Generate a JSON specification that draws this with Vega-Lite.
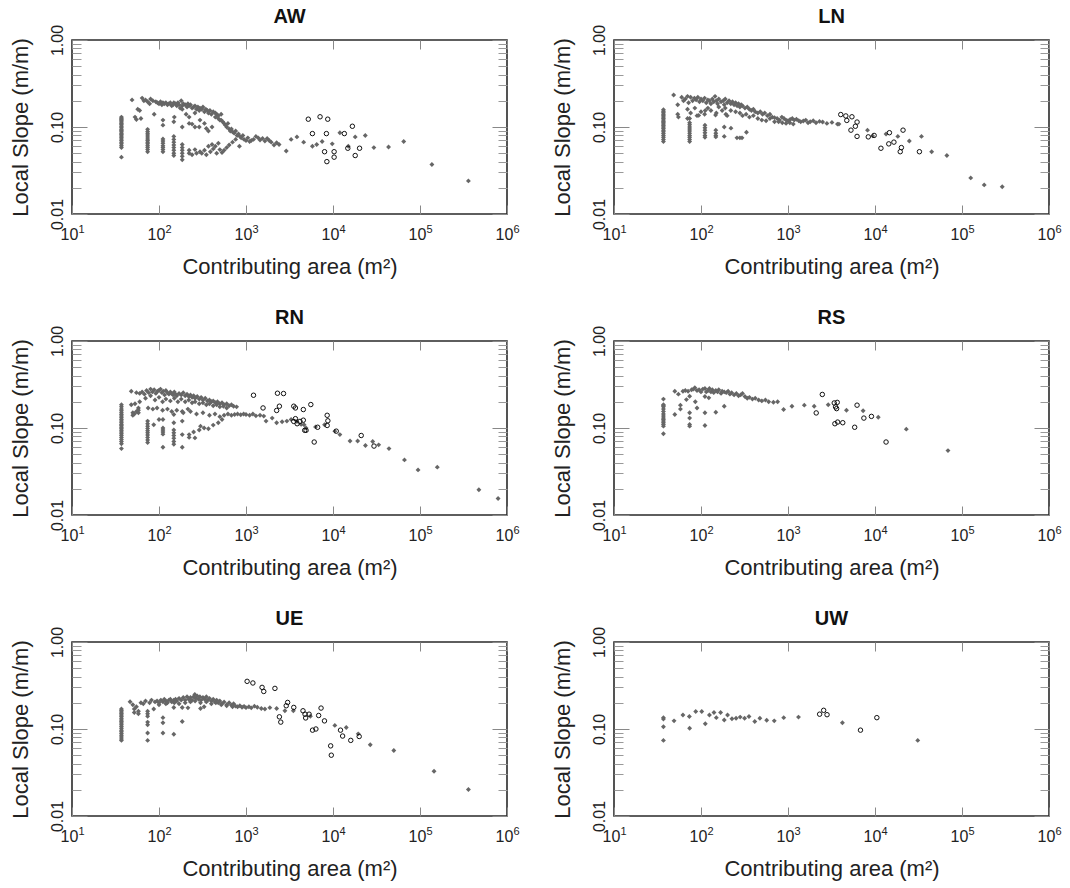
{
"$schema":"https://vega.github.io/schema/vega-lite/v6.json",
"background":"white",
"padding":{"left":8,"top":6,"right":5,"bottom":5},
"bounds":"flush",
"columns":2,
"spacing":{"row":127,"column":107},
"config":{"font":"Liberation Sans","view":{"stroke":"#2a2a2a","strokeWidth":1.6},"axis":{"labelFont":"Liberation Sans","titleFont":"Liberation Sans"}},
"datasets":{
"AW_f":[{"A":37,"S":0.13},{"A":37,"S":0.126},{"A":37,"S":0.122},{"A":37,"S":0.118},{"A":37,"S":0.114},{"A":37,"S":0.11},{"A":37,"S":0.106},{"A":37,"S":0.102},{"A":37,"S":0.098},{"A":37,"S":0.094},{"A":37,"S":0.091},{"A":37,"S":0.088},{"A":37,"S":0.085},{"A":37,"S":0.082},{"A":37,"S":0.079},{"A":37,"S":0.076},{"A":37,"S":0.073},{"A":37,"S":0.07},{"A":37,"S":0.067},{"A":37,"S":0.064},{"A":37,"S":0.061},{"A":37,"S":0.058},{"A":37,"S":0.045},
{"A":74,"S":0.094},{"A":74,"S":0.089},{"A":74,"S":0.085},{"A":74,"S":0.081},{"A":74,"S":0.077},{"A":74,"S":0.073},{"A":74,"S":0.07},{"A":74,"S":0.067},{"A":74,"S":0.064},{"A":74,"S":0.061},{"A":74,"S":0.058},{"A":74,"S":0.055},{"A":74,"S":0.052},
{"A":111,"S":0.073},{"A":111,"S":0.069},{"A":111,"S":0.065},{"A":111,"S":0.061},{"A":111,"S":0.058},{"A":111,"S":0.055},{"A":111,"S":0.052},
{"A":148,"S":0.078},{"A":148,"S":0.072},{"A":148,"S":0.067},{"A":148,"S":0.062},{"A":148,"S":0.058},{"A":148,"S":0.054},{"A":148,"S":0.05},{"A":148,"S":0.047},
{"A":185,"S":0.063},{"A":185,"S":0.058},{"A":185,"S":0.054},{"A":185,"S":0.05},{"A":185,"S":0.046},{"A":185,"S":0.042},
{"A":49,"S":0.205},{"A":53,"S":0.13},{"A":55,"S":0.122},{"A":57,"S":0.16},{"A":60,"S":0.155},{"A":62,"S":0.125},{"A":64,"S":0.215},{"A":67,"S":0.2},{"A":70,"S":0.205},{"A":74,"S":0.195},{"A":78,"S":0.185},{"A":80,"S":0.21},{"A":85,"S":0.2},{"A":88,"S":0.14},{"A":92,"S":0.195},{"A":96,"S":0.19},{"A":100,"S":0.185},{"A":104,"S":0.195},{"A":108,"S":0.18},{"A":111,"S":0.19},{"A":111,"S":0.12},{"A":111,"S":0.105},{"A":115,"S":0.185},{"A":120,"S":0.19},{"A":125,"S":0.18},{"A":130,"S":0.185},{"A":135,"S":0.19},{"A":140,"S":0.175},{"A":145,"S":0.18},{"A":148,"S":0.19},{"A":148,"S":0.115},{"A":150,"S":0.13},{"A":155,"S":0.185},{"A":160,"S":0.175},{"A":165,"S":0.19},{"A":170,"S":0.18},{"A":175,"S":0.165},{"A":180,"S":0.2},{"A":185,"S":0.175},{"A":185,"S":0.16},{"A":185,"S":0.1},{"A":190,"S":0.185},{"A":200,"S":0.18},{"A":205,"S":0.14},{"A":210,"S":0.17},{"A":215,"S":0.185},{"A":222,"S":0.175},{"A":222,"S":0.13},{"A":222,"S":0.11},{"A":230,"S":0.18},{"A":240,"S":0.165},{"A":240,"S":0.108},{"A":250,"S":0.17},{"A":259,"S":0.175},{"A":259,"S":0.145},{"A":259,"S":0.1},{"A":270,"S":0.16},{"A":280,"S":0.17},{"A":290,"S":0.155},{"A":290,"S":0.1},{"A":296,"S":0.165},{"A":296,"S":0.12},{"A":310,"S":0.16},{"A":320,"S":0.17},{"A":333,"S":0.15},{"A":333,"S":0.11},{"A":345,"S":0.16},{"A":350,"S":0.096},{"A":360,"S":0.155},{"A":370,"S":0.145},{"A":370,"S":0.09},{"A":385,"S":0.155},{"A":400,"S":0.14},{"A":407,"S":0.1},{"A":420,"S":0.15},{"A":444,"S":0.13},{"A":444,"S":0.145},{"A":460,"S":0.14},{"A":481,"S":0.125},{"A":481,"S":0.135},{"A":500,"S":0.12},{"A":518,"S":0.14},{"A":518,"S":0.12},{"A":540,"S":0.115},{"A":560,"S":0.11},{"A":580,"S":0.105},{"A":600,"S":0.1},{"A":620,"S":0.11},{"A":640,"S":0.095},{"A":660,"S":0.09},{"A":680,"S":0.095},{"A":700,"S":0.088},{"A":730,"S":0.085},{"A":760,"S":0.09},{"A":790,"S":0.08},{"A":820,"S":0.083},{"A":850,"S":0.078},{"A":880,"S":0.075},{"A":920,"S":0.08},{"A":950,"S":0.072},{"A":1000,"S":0.07},{"A":1050,"S":0.075},{"A":1100,"S":0.068},{"A":1150,"S":0.07},{"A":1220,"S":0.072},{"A":1300,"S":0.078},{"A":1380,"S":0.075},{"A":1450,"S":0.071},{"A":1550,"S":0.074},{"A":1650,"S":0.069},{"A":1750,"S":0.074},{"A":1850,"S":0.07},{"A":1950,"S":0.067},{"A":2100,"S":0.062},{"A":2250,"S":0.066},
{"A":222,"S":0.054},{"A":222,"S":0.05},{"A":240,"S":0.048},{"A":259,"S":0.055},{"A":270,"S":0.05},{"A":296,"S":0.052},{"A":310,"S":0.05},{"A":333,"S":0.054},{"A":350,"S":0.048},{"A":370,"S":0.06},{"A":390,"S":0.052},{"A":407,"S":0.063},{"A":420,"S":0.056},{"A":444,"S":0.06},{"A":460,"S":0.05},{"A":481,"S":0.065},{"A":500,"S":0.055},{"A":530,"S":0.051},{"A":560,"S":0.054},{"A":600,"S":0.058},{"A":640,"S":0.062},{"A":700,"S":0.067},{"A":760,"S":0.072},{"A":840,"S":0.06},
{"A":2400,"S":0.063},{"A":2900,"S":0.053},{"A":3300,"S":0.072},{"A":3850,"S":0.077},{"A":4600,"S":0.067},{"A":5800,"S":0.06},{"A":6500,"S":0.063},{"A":7500,"S":0.068},{"A":9800,"S":0.064},{"A":12000,"S":0.086},{"A":15000,"S":0.06},{"A":18000,"S":0.077},{"A":23500,"S":0.08},{"A":29500,"S":0.058},{"A":43500,"S":0.059},{"A":65000,"S":0.068},{"A":137000,"S":0.037},{"A":360000,"S":0.024}],
"AW_o":[{"A":5200,"S":0.123},{"A":7100,"S":0.131},{"A":8700,"S":0.123},{"A":5800,"S":0.084},{"A":8400,"S":0.084},{"A":13500,"S":0.084},{"A":16700,"S":0.102},{"A":8000,"S":0.052},{"A":10300,"S":0.052},{"A":8500,"S":0.04},{"A":10300,"S":0.045},{"A":14800,"S":0.057},{"A":20200,"S":0.057},{"A":18000,"S":0.047}],
"LN_f":[{"A":37,"S":0.158},{"A":37,"S":0.152},{"A":37,"S":0.146},{"A":37,"S":0.14},{"A":37,"S":0.135},{"A":37,"S":0.13},{"A":37,"S":0.125},{"A":37,"S":0.12},{"A":37,"S":0.116},{"A":37,"S":0.112},{"A":37,"S":0.108},{"A":37,"S":0.104},{"A":37,"S":0.1},{"A":37,"S":0.096},{"A":37,"S":0.092},{"A":37,"S":0.088},{"A":37,"S":0.084},{"A":37,"S":0.08},{"A":37,"S":0.076},{"A":37,"S":0.072},{"A":37,"S":0.068},
{"A":74,"S":0.112},{"A":74,"S":0.106},{"A":74,"S":0.1},{"A":74,"S":0.095},{"A":74,"S":0.09},{"A":74,"S":0.085},{"A":74,"S":0.08},{"A":74,"S":0.076},{"A":74,"S":0.072},{"A":74,"S":0.068},{"A":70,"S":0.125},
{"A":111,"S":0.105},{"A":111,"S":0.098},{"A":111,"S":0.092},{"A":111,"S":0.086},{"A":111,"S":0.08},{"A":111,"S":0.076},
{"A":148,"S":0.092},{"A":148,"S":0.085},{"A":148,"S":0.08},{"A":148,"S":0.077},{"A":185,"S":0.1},{"A":185,"S":0.078},
{"A":221,"S":0.097},{"A":259,"S":0.075},{"A":280,"S":0.075},{"A":296,"S":0.075},{"A":333,"S":0.087},
{"A":48.5,"S":0.233},{"A":54,"S":0.18},{"A":54,"S":0.14},{"A":55,"S":0.13},{"A":60,"S":0.22},{"A":63,"S":0.2},{"A":66,"S":0.21},{"A":70,"S":0.225},{"A":72,"S":0.19},{"A":76,"S":0.22},{"A":80,"S":0.2},{"A":84,"S":0.215},{"A":88,"S":0.205},{"A":92,"S":0.22},{"A":96,"S":0.195},{"A":100,"S":0.21},{"A":105,"S":0.2},{"A":110,"S":0.215},{"A":115,"S":0.19},{"A":120,"S":0.205},{"A":125,"S":0.2},{"A":130,"S":0.185},{"A":135,"S":0.21},{"A":140,"S":0.195},{"A":145,"S":0.225},{"A":150,"S":0.2},{"A":155,"S":0.185},{"A":160,"S":0.21},{"A":170,"S":0.195},{"A":180,"S":0.2},{"A":185,"S":0.18},{"A":190,"S":0.21},{"A":200,"S":0.19},{"A":210,"S":0.2},{"A":220,"S":0.185},{"A":230,"S":0.195},{"A":240,"S":0.18},{"A":250,"S":0.19},{"A":260,"S":0.175},{"A":270,"S":0.185},{"A":280,"S":0.17},{"A":290,"S":0.18},{"A":300,"S":0.175},{"A":320,"S":0.165},{"A":340,"S":0.17},{"A":360,"S":0.16},{"A":380,"S":0.155},{"A":400,"S":0.16},{"A":420,"S":0.15},{"A":450,"S":0.145},{"A":480,"S":0.15},{"A":510,"S":0.14},{"A":540,"S":0.145},{"A":580,"S":0.135},{"A":620,"S":0.14},{"A":660,"S":0.13},{"A":700,"S":0.128},{"A":750,"S":0.125},{"A":800,"S":0.12},{"A":850,"S":0.13},{"A":900,"S":0.125},{"A":950,"S":0.12},{"A":1000,"S":0.118},{"A":1060,"S":0.122},{"A":1120,"S":0.125},{"A":1180,"S":0.12},{"A":1250,"S":0.123},{"A":1330,"S":0.118},{"A":1400,"S":0.115},{"A":1500,"S":0.117},{"A":1600,"S":0.12},{"A":1700,"S":0.112},{"A":1800,"S":0.115},{"A":1950,"S":0.118},{"A":2100,"S":0.112},{"A":2300,"S":0.116},{"A":2500,"S":0.114},{"A":2800,"S":0.11},{"A":3200,"S":0.113},{"A":3700,"S":0.108},
{"A":70,"S":0.16},{"A":76,"S":0.145},{"A":85,"S":0.165},{"A":90,"S":0.135},{"A":100,"S":0.15},{"A":110,"S":0.14},{"A":120,"S":0.165},{"A":130,"S":0.155},{"A":150,"S":0.145},{"A":160,"S":0.17},{"A":175,"S":0.155},{"A":190,"S":0.165},{"A":200,"S":0.135},{"A":220,"S":0.155},{"A":250,"S":0.15},{"A":280,"S":0.145},{"A":300,"S":0.135},{"A":330,"S":0.14},{"A":360,"S":0.13},{"A":400,"S":0.135},{"A":450,"S":0.125},{"A":500,"S":0.12},{"A":560,"S":0.118},{"A":620,"S":0.125},{"A":700,"S":0.115},{"A":780,"S":0.115},{"A":860,"S":0.112},{"A":950,"S":0.11},{"A":1050,"S":0.112},{"A":1150,"S":0.108},
{"A":74,"S":0.125},{"A":94,"S":0.136},{"A":112,"S":0.155},{"A":147,"S":0.137},{"A":193,"S":0.14},
{"A":3850,"S":0.108},{"A":8200,"S":0.092},{"A":9400,"S":0.079},{"A":13400,"S":0.083},{"A":18300,"S":0.078},{"A":24800,"S":0.069},{"A":34200,"S":0.078},{"A":44800,"S":0.052},{"A":67000,"S":0.047},{"A":126000,"S":0.026},{"A":180000,"S":0.0216},{"A":290000,"S":0.0206}],
"LN_o":[{"A":4040,"S":0.139},{"A":4620,"S":0.134},{"A":5430,"S":0.131},{"A":4740,"S":0.119},{"A":6220,"S":0.114},{"A":5950,"S":0.102},{"A":5290,"S":0.092},{"A":6220,"S":0.078},{"A":8370,"S":0.077},{"A":9770,"S":0.08},{"A":14650,"S":0.086},{"A":21000,"S":0.092},{"A":11700,"S":0.057},{"A":14400,"S":0.064},{"A":16500,"S":0.067},{"A":20100,"S":0.058},{"A":19500,"S":0.052},{"A":32400,"S":0.052}],
"RN_f":[{"A":37,"S":0.185},{"A":37,"S":0.175},{"A":37,"S":0.165},{"A":37,"S":0.158},{"A":37,"S":0.15},{"A":37,"S":0.143},{"A":37,"S":0.137},{"A":37,"S":0.131},{"A":37,"S":0.125},{"A":37,"S":0.12},{"A":37,"S":0.115},{"A":37,"S":0.11},{"A":37,"S":0.106},{"A":37,"S":0.102},{"A":37,"S":0.098},{"A":37,"S":0.094},{"A":37,"S":0.09},{"A":37,"S":0.086},{"A":37,"S":0.082},{"A":37,"S":0.078},{"A":37,"S":0.074},{"A":37,"S":0.07},{"A":37,"S":0.066},{"A":37,"S":0.058},
{"A":50,"S":0.14},{"A":50,"S":0.15},{"A":52,"S":0.145},{"A":55,"S":0.155},{"A":58,"S":0.17},{"A":58,"S":0.16},{"A":58,"S":0.15},{"A":48,"S":0.185},{"A":53,"S":0.19},{"A":60,"S":0.2},
{"A":74,"S":0.12},{"A":74,"S":0.112},{"A":74,"S":0.105},{"A":74,"S":0.099},{"A":74,"S":0.093},{"A":74,"S":0.088},{"A":74,"S":0.083},{"A":74,"S":0.078},{"A":74,"S":0.073},{"A":74,"S":0.068},
{"A":111,"S":0.1},{"A":111,"S":0.095},{"A":111,"S":0.09},{"A":111,"S":0.085},{"A":111,"S":0.06},{"A":111,"S":0.125},
{"A":148,"S":0.095},{"A":148,"S":0.088},{"A":148,"S":0.082},{"A":148,"S":0.076},{"A":148,"S":0.07},{"A":148,"S":0.065},{"A":148,"S":0.115},{"A":148,"S":0.143},
{"A":185,"S":0.12},{"A":185,"S":0.084},{"A":185,"S":0.06},{"A":185,"S":0.155},{"A":222,"S":0.084},{"A":222,"S":0.078},{"A":259,"S":0.077},{"A":215,"S":0.165},
{"A":48,"S":0.265},{"A":55,"S":0.255},{"A":60,"S":0.25},{"A":64,"S":0.26},{"A":68,"S":0.245},{"A":72,"S":0.27},{"A":76,"S":0.255},{"A":80,"S":0.28},{"A":84,"S":0.26},{"A":88,"S":0.275},{"A":92,"S":0.25},{"A":96,"S":0.265},{"A":100,"S":0.27},{"A":104,"S":0.28},{"A":108,"S":0.255},{"A":112,"S":0.265},{"A":116,"S":0.24},{"A":120,"S":0.27},{"A":125,"S":0.255},{"A":130,"S":0.245},{"A":135,"S":0.26},{"A":140,"S":0.25},{"A":145,"S":0.24},{"A":150,"S":0.26},{"A":155,"S":0.245},{"A":160,"S":0.235},{"A":170,"S":0.25},{"A":180,"S":0.24},{"A":190,"S":0.255},{"A":200,"S":0.235},{"A":210,"S":0.245},{"A":220,"S":0.23},{"A":230,"S":0.24},{"A":240,"S":0.225},{"A":250,"S":0.235},{"A":260,"S":0.22},{"A":275,"S":0.23},{"A":290,"S":0.215},{"A":305,"S":0.225},{"A":320,"S":0.21},{"A":340,"S":0.22},{"A":360,"S":0.205},{"A":380,"S":0.21},{"A":400,"S":0.2},{"A":420,"S":0.205},{"A":445,"S":0.195},{"A":470,"S":0.2},{"A":500,"S":0.19},{"A":530,"S":0.195},{"A":560,"S":0.185},{"A":600,"S":0.19},{"A":640,"S":0.18},{"A":680,"S":0.185},{"A":720,"S":0.178},{"A":780,"S":0.175},
{"A":70,"S":0.22},{"A":80,"S":0.235},{"A":90,"S":0.21},{"A":100,"S":0.225},{"A":110,"S":0.2},{"A":120,"S":0.215},{"A":135,"S":0.205},{"A":150,"S":0.22},{"A":165,"S":0.2},{"A":180,"S":0.215},{"A":200,"S":0.2},{"A":220,"S":0.21},{"A":240,"S":0.195},{"A":260,"S":0.2},{"A":290,"S":0.19},{"A":320,"S":0.195},{"A":350,"S":0.185},{"A":380,"S":0.19},{"A":420,"S":0.18},{"A":460,"S":0.185},{"A":500,"S":0.175},{"A":550,"S":0.178},{"A":600,"S":0.17},
{"A":75,"S":0.17},{"A":85,"S":0.165},{"A":95,"S":0.17},{"A":110,"S":0.16},{"A":125,"S":0.165},{"A":140,"S":0.155},{"A":160,"S":0.16},{"A":190,"S":0.15},{"A":230,"S":0.155},{"A":270,"S":0.145},{"A":320,"S":0.15},{"A":380,"S":0.14},{"A":440,"S":0.145},{"A":500,"S":0.135},{"A":560,"S":0.14},{"A":620,"S":0.145},{"A":680,"S":0.14},{"A":740,"S":0.143},{"A":800,"S":0.145},{"A":870,"S":0.142},{"A":940,"S":0.145},{"A":1000,"S":0.143},{"A":1100,"S":0.14},{"A":1200,"S":0.145},{"A":1300,"S":0.138},{"A":1450,"S":0.14},{"A":1600,"S":0.137},
{"A":290,"S":0.095},{"A":330,"S":0.1},{"A":370,"S":0.098},{"A":420,"S":0.108},{"A":480,"S":0.115},{"A":530,"S":0.125},{"A":300,"S":0.105},{"A":250,"S":0.09},{"A":87,"S":0.109},{"A":100,"S":0.125},
{"A":1700,"S":0.12},{"A":2000,"S":0.13},{"A":2250,"S":0.115},{"A":2600,"S":0.118},{"A":2950,"S":0.12},{"A":3300,"S":0.125},{"A":3850,"S":0.119},{"A":4300,"S":0.11},{"A":4650,"S":0.109},{"A":4900,"S":0.1},{"A":6300,"S":0.103},{"A":8000,"S":0.109},{"A":10500,"S":0.092},{"A":12000,"S":0.084},{"A":15700,"S":0.071},{"A":19200,"S":0.071},{"A":23600,"S":0.063},{"A":28600,"S":0.07},{"A":33500,"S":0.064},{"A":44000,"S":0.058},{"A":66300,"S":0.043},{"A":95000,"S":0.033},{"A":158000,"S":0.0355},{"A":475000,"S":0.0195},{"A":790000,"S":0.0155}],
"RN_o":[{"A":1220,"S":0.238},{"A":1570,"S":0.17},{"A":2300,"S":0.251},{"A":2700,"S":0.249},{"A":2420,"S":0.178},{"A":2250,"S":0.159},{"A":3540,"S":0.178},{"A":3700,"S":0.17},{"A":3700,"S":0.128},{"A":3540,"S":0.119},{"A":3870,"S":0.112},{"A":4170,"S":0.119},{"A":4560,"S":0.163},{"A":4560,"S":0.123},{"A":5560,"S":0.186},{"A":4730,"S":0.094},{"A":4900,"S":0.094},{"A":6080,"S":0.069},{"A":6660,"S":0.102},{"A":8570,"S":0.14},{"A":8730,"S":0.121},{"A":8570,"S":0.107},{"A":10900,"S":0.092},{"A":21100,"S":0.082},{"A":29600,"S":0.062}],
"RS_f":[{"A":37,"S":0.215},{"A":37,"S":0.185},{"A":37,"S":0.18},{"A":37,"S":0.175},{"A":37,"S":0.165},{"A":37,"S":0.155},{"A":37,"S":0.145},{"A":37,"S":0.137},{"A":37,"S":0.13},{"A":37,"S":0.125},{"A":37,"S":0.12},{"A":37,"S":0.115},{"A":37,"S":0.11},{"A":37,"S":0.105},{"A":37,"S":0.086},
{"A":50,"S":0.265},{"A":50,"S":0.143},{"A":55,"S":0.245},{"A":58,"S":0.183},{"A":58,"S":0.165},{"A":62,"S":0.265},{"A":66,"S":0.27},{"A":68,"S":0.212},{"A":71,"S":0.265},{"A":74,"S":0.232},{"A":74,"S":0.15},{"A":74,"S":0.13},{"A":74,"S":0.11},{"A":74,"S":0.105},{"A":78,"S":0.275},{"A":82,"S":0.28},{"A":85,"S":0.29},{"A":86,"S":0.2},{"A":90,"S":0.27},{"A":90,"S":0.17},{"A":95,"S":0.275},{"A":100,"S":0.26},{"A":105,"S":0.28},{"A":111,"S":0.285},{"A":111,"S":0.23},{"A":111,"S":0.15},{"A":111,"S":0.107},{"A":115,"S":0.26},{"A":120,"S":0.27},{"A":123,"S":0.222},{"A":125,"S":0.285},{"A":130,"S":0.26},{"A":135,"S":0.275},{"A":140,"S":0.255},{"A":148,"S":0.27},{"A":148,"S":0.152},{"A":155,"S":0.26},{"A":160,"S":0.275},{"A":170,"S":0.25},{"A":175,"S":0.265},{"A":185,"S":0.26},{"A":185,"S":0.178},{"A":195,"S":0.255},{"A":205,"S":0.265},{"A":215,"S":0.245},{"A":225,"S":0.255},{"A":240,"S":0.24},{"A":255,"S":0.25},{"A":270,"S":0.235},{"A":285,"S":0.24},{"A":300,"S":0.25},{"A":320,"S":0.23},{"A":340,"S":0.22},{"A":360,"S":0.225},{"A":390,"S":0.215},{"A":420,"S":0.22},{"A":460,"S":0.21},{"A":500,"S":0.205},{"A":550,"S":0.21},{"A":600,"S":0.2},{"A":680,"S":0.198},{"A":760,"S":0.2},{"A":890,"S":0.163},{"A":1110,"S":0.178},{"A":1540,"S":0.183},{"A":2000,"S":0.178},{"A":2900,"S":0.185},{"A":4700,"S":0.16},{"A":7300,"S":0.158},{"A":10900,"S":0.133},{"A":22900,"S":0.097},{"A":69000,"S":0.055}],
"RS_o":[{"A":2480,"S":0.243},{"A":2110,"S":0.149},{"A":3400,"S":0.194},{"A":3680,"S":0.197},{"A":3520,"S":0.175},{"A":3620,"S":0.167},{"A":3460,"S":0.112},{"A":3720,"S":0.117},{"A":4260,"S":0.115},{"A":6220,"S":0.183},{"A":7450,"S":0.13},{"A":9100,"S":0.136},{"A":5840,"S":0.102},{"A":13400,"S":0.069}],
"UE_f":[{"A":37,"S":0.17},{"A":37,"S":0.163},{"A":37,"S":0.157},{"A":37,"S":0.151},{"A":37,"S":0.145},{"A":37,"S":0.139},{"A":37,"S":0.133},{"A":37,"S":0.127},{"A":37,"S":0.122},{"A":37,"S":0.117},{"A":37,"S":0.112},{"A":37,"S":0.107},{"A":37,"S":0.102},{"A":37,"S":0.097},{"A":37,"S":0.093},{"A":37,"S":0.089},{"A":37,"S":0.085},{"A":37,"S":0.081},{"A":37,"S":0.077},{"A":37,"S":0.074},
{"A":46.5,"S":0.206},{"A":50,"S":0.19},{"A":52,"S":0.17},{"A":52,"S":0.155},{"A":55,"S":0.18},{"A":58,"S":0.16},{"A":58,"S":0.15},{"A":62,"S":0.2},{"A":66,"S":0.195},{"A":70,"S":0.21},{"A":74,"S":0.16},{"A":74,"S":0.15},{"A":74,"S":0.14},{"A":74,"S":0.12},{"A":74,"S":0.112},{"A":74,"S":0.09},{"A":74,"S":0.074},{"A":78,"S":0.2},{"A":82,"S":0.215},{"A":87,"S":0.17},{"A":90,"S":0.205},{"A":95,"S":0.21},{"A":100,"S":0.2},{"A":105,"S":0.215},{"A":111,"S":0.135},{"A":111,"S":0.118},{"A":111,"S":0.09},{"A":111,"S":0.205},{"A":115,"S":0.22},{"A":120,"S":0.21},{"A":125,"S":0.2},{"A":130,"S":0.215},{"A":135,"S":0.22},{"A":140,"S":0.205},{"A":148,"S":0.087},{"A":148,"S":0.177},{"A":148,"S":0.215},{"A":155,"S":0.22},{"A":160,"S":0.21},{"A":170,"S":0.225},{"A":180,"S":0.215},{"A":185,"S":0.122},{"A":185,"S":0.177},{"A":190,"S":0.23},{"A":200,"S":0.215},{"A":210,"S":0.235},{"A":215,"S":0.175},{"A":220,"S":0.22},{"A":230,"S":0.23},{"A":240,"S":0.215},{"A":250,"S":0.235},{"A":258,"S":0.25},{"A":265,"S":0.225},{"A":275,"S":0.24},{"A":285,"S":0.22},{"A":295,"S":0.235},{"A":305,"S":0.215},{"A":320,"S":0.23},{"A":335,"S":0.22},{"A":350,"S":0.235},{"A":365,"S":0.215},{"A":380,"S":0.225},{"A":400,"S":0.21},{"A":420,"S":0.22},{"A":440,"S":0.205},{"A":460,"S":0.215},{"A":480,"S":0.2},{"A":500,"S":0.21},{"A":530,"S":0.195},{"A":560,"S":0.205},{"A":600,"S":0.19},{"A":640,"S":0.2},{"A":680,"S":0.188},{"A":720,"S":0.195},{"A":760,"S":0.183},{"A":800,"S":0.18},{"A":850,"S":0.185},{"A":900,"S":0.178},{"A":950,"S":0.182},{"A":1000,"S":0.176},{"A":1080,"S":0.18},{"A":1150,"S":0.175},{"A":1250,"S":0.183},{"A":1350,"S":0.178},{"A":1500,"S":0.172},{"A":1650,"S":0.17},{"A":1880,"S":0.176},{"A":2250,"S":0.172},{"A":2800,"S":0.162},{"A":3500,"S":0.162},
{"A":100,"S":0.19},{"A":120,"S":0.195},{"A":150,"S":0.2},{"A":170,"S":0.195},{"A":200,"S":0.2},{"A":230,"S":0.205},{"A":260,"S":0.21},{"A":300,"S":0.2},{"A":350,"S":0.205},{"A":400,"S":0.195},{"A":450,"S":0.2},{"A":520,"S":0.19},{"A":600,"S":0.185},{"A":700,"S":0.18},{"A":300,"S":0.172},{"A":330,"S":0.18},
{"A":5500,"S":0.14},{"A":10500,"S":0.11},{"A":14200,"S":0.104},{"A":19500,"S":0.088},{"A":26800,"S":0.066},{"A":50000,"S":0.0566},{"A":145000,"S":0.0327},{"A":360000,"S":0.0202}],
"UE_o":[{"A":1030,"S":0.353},{"A":1200,"S":0.338},{"A":1530,"S":0.301},{"A":1600,"S":0.27},{"A":2150,"S":0.293},{"A":3010,"S":0.202},{"A":2900,"S":0.185},{"A":3540,"S":0.177},{"A":2420,"S":0.138},{"A":2510,"S":0.12},{"A":4520,"S":0.162},{"A":4770,"S":0.148},{"A":4850,"S":0.134},{"A":5310,"S":0.148},{"A":6840,"S":0.143},{"A":7290,"S":0.174},{"A":7980,"S":0.124},{"A":5820,"S":0.097},{"A":6360,"S":0.1},{"A":12200,"S":0.097},{"A":12900,"S":0.083},{"A":16000,"S":0.074},{"A":20000,"S":0.082},{"A":9400,"S":0.064},{"A":9560,"S":0.05}],
"UW_f":[{"A":37,"S":0.135},{"A":37,"S":0.13},{"A":37,"S":0.106},{"A":37,"S":0.074},{"A":49,"S":0.124},{"A":62,"S":0.145},{"A":73.5,"S":0.139},{"A":74,"S":0.102},{"A":87,"S":0.159},{"A":102,"S":0.159},{"A":112,"S":0.115},{"A":125,"S":0.145},{"A":141,"S":0.155},{"A":150,"S":0.135},{"A":168,"S":0.155},{"A":185,"S":0.127},{"A":202,"S":0.145},{"A":227,"S":0.131},{"A":253,"S":0.133},{"A":282,"S":0.137},{"A":317,"S":0.133},{"A":356,"S":0.139},{"A":415,"S":0.122},{"A":475,"S":0.133},{"A":569,"S":0.126},{"A":695,"S":0.124},{"A":893,"S":0.135},{"A":1320,"S":0.137},{"A":4220,"S":0.118},{"A":31000,"S":0.074}],
"UW_o":[{"A":2310,"S":0.148},{"A":2570,"S":0.164},{"A":2810,"S":0.146},{"A":6810,"S":0.097},{"A":10500,"S":0.135}]
},
"concat":[
{"title":{"text":"AW","fontSize":20,"fontWeight":"bold","color":"#111111","font":"Liberation Sans","frame":"group","anchor":"middle","baseline":"alphabetic","offset":15,"dy":34},"width":435,"height":174,"layer":[
{"data":{"name":"AW_f"},"mark":{"type":"point","shape":"diamond","filled":true,"color":"#666666","size":24,"opacity":1},"encoding":{"x":{"field":"A","type":"quantitative","scale":{"type":"log","domain":[10,1000000],"nice":false},"axis":{"orient":"bottom","values":[10,100,1000,10000,100000,1000000],"labelExpr":"'10'","ticks":false,"domain":false,"grid":false,"labelFlush":false,"labelOverlap":false,"labelPadding":12,"labelOffset":-3,"labelFontSize":16,"labelColor":"#222222","title":"Contributing area (m²)","titleFontSize":22,"titleFontWeight":"normal","titleColor":"#222222","titlePadding":14}},"y":{"field":"S","type":"quantitative","scale":{"type":"log","domain":[0.01,1],"nice":false},"axis":{"orient":"left","values":[0.01,0.1,1],"format":".2f","ticks":false,"domain":false,"grid":false,"labelFlush":false,"labelOverlap":false,"labelAngle":270,"labelAlign":"center","labelBaseline":"bottom","labelPadding":7,"labelFontSize":16,"labelColor":"#222222","title":"Local Slope (m/m)","titleFontSize":22,"titleFontWeight":"normal","titleColor":"#222222","titlePadding":17}}}},
{"data":{"name":"AW_o"},"mark":{"type":"point","shape":"circle","filled":false,"stroke":"#111111","strokeWidth":1,"size":20,"opacity":1},"encoding":{"x":{"field":"A","type":"quantitative","scale":{"type":"log","domain":[10,1000000],"nice":false},"axis":{"orient":"bottom","values":[10,100,1000,10000,100000,1000000],"labelExpr":"''+round(log(datum.value)/LN10)","ticks":false,"domain":false,"grid":false,"labelFlush":false,"labelOverlap":false,"labelPadding":9,"labelOffset":9,"labelFontSize":11,"labelColor":"#222222","title":null}},"y":{"field":"S","type":"quantitative","scale":{"type":"log","domain":[0.01,1],"nice":false},"axis":{"orient":"left","values":[0.01,0.1,1],"labels":false,"domain":false,"grid":false,"ticks":true,"tickSize":15,"offset":-15,"tickColor":"#888888","tickWidth":1,"title":null}}}},
{"data":{"name":"AW_f"},"mark":{"type":"point","opacity":0},"encoding":{"x":{"field":"A","type":"quantitative","scale":{"type":"log","domain":[10,1000000],"nice":false},"axis":{"orient":"top","values":[10,100,1000,10000,100000,1000000],"labels":false,"domain":false,"grid":false,"ticks":true,"tickSize":9,"offset":-9,"tickColor":"#888888","tickWidth":1,"title":null}},"y":{"field":"S","type":"quantitative","scale":{"type":"log","domain":[0.01,1],"nice":false},"axis":{"orient":"left","values":[0.02,0.03,0.04,0.05,0.06,0.07,0.08,0.09,0.2,0.3,0.4,0.5,0.6,0.7,0.8,0.9],"labels":false,"domain":false,"grid":false,"ticks":true,"tickSize":9,"offset":-9,"tickColor":"#999999","tickWidth":1,"title":null}}}},
{"data":{"name":"AW_f"},"mark":{"type":"point","opacity":0},"encoding":{"x":{"field":"A","type":"quantitative","scale":{"type":"log","domain":[10,1000000],"nice":false},"axis":{"orient":"bottom","values":[10,100,1000,10000,100000,1000000],"labels":false,"domain":false,"grid":false,"ticks":true,"tickSize":9,"offset":-9,"tickColor":"#888888","tickWidth":1,"title":null}},"y":{"field":"S","type":"quantitative","scale":{"type":"log","domain":[0.01,1],"nice":false},"axis":{"orient":"right","values":[0.01,0.1,1],"labels":false,"domain":false,"grid":false,"ticks":true,"tickSize":15,"offset":-15,"tickColor":"#888888","tickWidth":1,"title":null}}}},
{"data":{"name":"AW_f"},"mark":{"type":"point","opacity":0},"encoding":{"x":{"field":"A","type":"quantitative","scale":{"type":"log","domain":[10,1000000],"nice":false},"axis":null},"y":{"field":"S","type":"quantitative","scale":{"type":"log","domain":[0.01,1],"nice":false},"axis":{"orient":"right","values":[0.02,0.03,0.04,0.05,0.06,0.07,0.08,0.09,0.2,0.3,0.4,0.5,0.6,0.7,0.8,0.9],"labels":false,"domain":false,"grid":false,"ticks":true,"tickSize":9,"offset":-9,"tickColor":"#999999","tickWidth":1,"title":null}}}}
],"resolve":{"axis":{"x":"independent","y":"independent"}}},
{"title":{"text":"LN","fontSize":20,"fontWeight":"bold","color":"#111111","font":"Liberation Sans","frame":"group","anchor":"middle","baseline":"alphabetic","offset":15,"dy":34},"width":435,"height":174,"layer":[
{"data":{"name":"LN_f"},"mark":{"type":"point","shape":"diamond","filled":true,"color":"#666666","size":24,"opacity":1},"encoding":{"x":{"field":"A","type":"quantitative","scale":{"type":"log","domain":[10,1000000],"nice":false},"axis":{"orient":"bottom","values":[10,100,1000,10000,100000,1000000],"labelExpr":"'10'","ticks":false,"domain":false,"grid":false,"labelFlush":false,"labelOverlap":false,"labelPadding":12,"labelOffset":-3,"labelFontSize":16,"labelColor":"#222222","title":"Contributing area (m²)","titleFontSize":22,"titleFontWeight":"normal","titleColor":"#222222","titlePadding":14}},"y":{"field":"S","type":"quantitative","scale":{"type":"log","domain":[0.01,1],"nice":false},"axis":{"orient":"left","values":[0.01,0.1,1],"format":".2f","ticks":false,"domain":false,"grid":false,"labelFlush":false,"labelOverlap":false,"labelAngle":270,"labelAlign":"center","labelBaseline":"bottom","labelPadding":7,"labelFontSize":16,"labelColor":"#222222","title":"Local Slope (m/m)","titleFontSize":22,"titleFontWeight":"normal","titleColor":"#222222","titlePadding":17}}}},
{"data":{"name":"LN_o"},"mark":{"type":"point","shape":"circle","filled":false,"stroke":"#111111","strokeWidth":1,"size":20,"opacity":1},"encoding":{"x":{"field":"A","type":"quantitative","scale":{"type":"log","domain":[10,1000000],"nice":false},"axis":{"orient":"bottom","values":[10,100,1000,10000,100000,1000000],"labelExpr":"''+round(log(datum.value)/LN10)","ticks":false,"domain":false,"grid":false,"labelFlush":false,"labelOverlap":false,"labelPadding":9,"labelOffset":9,"labelFontSize":11,"labelColor":"#222222","title":null}},"y":{"field":"S","type":"quantitative","scale":{"type":"log","domain":[0.01,1],"nice":false},"axis":{"orient":"left","values":[0.01,0.1,1],"labels":false,"domain":false,"grid":false,"ticks":true,"tickSize":15,"offset":-15,"tickColor":"#888888","tickWidth":1,"title":null}}}},
{"data":{"name":"LN_f"},"mark":{"type":"point","opacity":0},"encoding":{"x":{"field":"A","type":"quantitative","scale":{"type":"log","domain":[10,1000000],"nice":false},"axis":{"orient":"top","values":[10,100,1000,10000,100000,1000000],"labels":false,"domain":false,"grid":false,"ticks":true,"tickSize":9,"offset":-9,"tickColor":"#888888","tickWidth":1,"title":null}},"y":{"field":"S","type":"quantitative","scale":{"type":"log","domain":[0.01,1],"nice":false},"axis":{"orient":"left","values":[0.02,0.03,0.04,0.05,0.06,0.07,0.08,0.09,0.2,0.3,0.4,0.5,0.6,0.7,0.8,0.9],"labels":false,"domain":false,"grid":false,"ticks":true,"tickSize":9,"offset":-9,"tickColor":"#999999","tickWidth":1,"title":null}}}},
{"data":{"name":"LN_f"},"mark":{"type":"point","opacity":0},"encoding":{"x":{"field":"A","type":"quantitative","scale":{"type":"log","domain":[10,1000000],"nice":false},"axis":{"orient":"bottom","values":[10,100,1000,10000,100000,1000000],"labels":false,"domain":false,"grid":false,"ticks":true,"tickSize":9,"offset":-9,"tickColor":"#888888","tickWidth":1,"title":null}},"y":{"field":"S","type":"quantitative","scale":{"type":"log","domain":[0.01,1],"nice":false},"axis":{"orient":"right","values":[0.01,0.1,1],"labels":false,"domain":false,"grid":false,"ticks":true,"tickSize":15,"offset":-15,"tickColor":"#888888","tickWidth":1,"title":null}}}},
{"data":{"name":"LN_f"},"mark":{"type":"point","opacity":0},"encoding":{"x":{"field":"A","type":"quantitative","scale":{"type":"log","domain":[10,1000000],"nice":false},"axis":null},"y":{"field":"S","type":"quantitative","scale":{"type":"log","domain":[0.01,1],"nice":false},"axis":{"orient":"right","values":[0.02,0.03,0.04,0.05,0.06,0.07,0.08,0.09,0.2,0.3,0.4,0.5,0.6,0.7,0.8,0.9],"labels":false,"domain":false,"grid":false,"ticks":true,"tickSize":9,"offset":-9,"tickColor":"#999999","tickWidth":1,"title":null}}}}
],"resolve":{"axis":{"x":"independent","y":"independent"}}},
{"title":{"text":"RN","fontSize":20,"fontWeight":"bold","color":"#111111","font":"Liberation Sans","frame":"group","anchor":"middle","baseline":"alphabetic","offset":15,"dy":34},"width":435,"height":174,"layer":[
{"data":{"name":"RN_f"},"mark":{"type":"point","shape":"diamond","filled":true,"color":"#666666","size":24,"opacity":1},"encoding":{"x":{"field":"A","type":"quantitative","scale":{"type":"log","domain":[10,1000000],"nice":false},"axis":{"orient":"bottom","values":[10,100,1000,10000,100000,1000000],"labelExpr":"'10'","ticks":false,"domain":false,"grid":false,"labelFlush":false,"labelOverlap":false,"labelPadding":12,"labelOffset":-3,"labelFontSize":16,"labelColor":"#222222","title":"Contributing area (m²)","titleFontSize":22,"titleFontWeight":"normal","titleColor":"#222222","titlePadding":14}},"y":{"field":"S","type":"quantitative","scale":{"type":"log","domain":[0.01,1],"nice":false},"axis":{"orient":"left","values":[0.01,0.1,1],"format":".2f","ticks":false,"domain":false,"grid":false,"labelFlush":false,"labelOverlap":false,"labelAngle":270,"labelAlign":"center","labelBaseline":"bottom","labelPadding":7,"labelFontSize":16,"labelColor":"#222222","title":"Local Slope (m/m)","titleFontSize":22,"titleFontWeight":"normal","titleColor":"#222222","titlePadding":17}}}},
{"data":{"name":"RN_o"},"mark":{"type":"point","shape":"circle","filled":false,"stroke":"#111111","strokeWidth":1,"size":20,"opacity":1},"encoding":{"x":{"field":"A","type":"quantitative","scale":{"type":"log","domain":[10,1000000],"nice":false},"axis":{"orient":"bottom","values":[10,100,1000,10000,100000,1000000],"labelExpr":"''+round(log(datum.value)/LN10)","ticks":false,"domain":false,"grid":false,"labelFlush":false,"labelOverlap":false,"labelPadding":9,"labelOffset":9,"labelFontSize":11,"labelColor":"#222222","title":null}},"y":{"field":"S","type":"quantitative","scale":{"type":"log","domain":[0.01,1],"nice":false},"axis":{"orient":"left","values":[0.01,0.1,1],"labels":false,"domain":false,"grid":false,"ticks":true,"tickSize":15,"offset":-15,"tickColor":"#888888","tickWidth":1,"title":null}}}},
{"data":{"name":"RN_f"},"mark":{"type":"point","opacity":0},"encoding":{"x":{"field":"A","type":"quantitative","scale":{"type":"log","domain":[10,1000000],"nice":false},"axis":{"orient":"top","values":[10,100,1000,10000,100000,1000000],"labels":false,"domain":false,"grid":false,"ticks":true,"tickSize":9,"offset":-9,"tickColor":"#888888","tickWidth":1,"title":null}},"y":{"field":"S","type":"quantitative","scale":{"type":"log","domain":[0.01,1],"nice":false},"axis":{"orient":"left","values":[0.02,0.03,0.04,0.05,0.06,0.07,0.08,0.09,0.2,0.3,0.4,0.5,0.6,0.7,0.8,0.9],"labels":false,"domain":false,"grid":false,"ticks":true,"tickSize":9,"offset":-9,"tickColor":"#999999","tickWidth":1,"title":null}}}},
{"data":{"name":"RN_f"},"mark":{"type":"point","opacity":0},"encoding":{"x":{"field":"A","type":"quantitative","scale":{"type":"log","domain":[10,1000000],"nice":false},"axis":{"orient":"bottom","values":[10,100,1000,10000,100000,1000000],"labels":false,"domain":false,"grid":false,"ticks":true,"tickSize":9,"offset":-9,"tickColor":"#888888","tickWidth":1,"title":null}},"y":{"field":"S","type":"quantitative","scale":{"type":"log","domain":[0.01,1],"nice":false},"axis":{"orient":"right","values":[0.01,0.1,1],"labels":false,"domain":false,"grid":false,"ticks":true,"tickSize":15,"offset":-15,"tickColor":"#888888","tickWidth":1,"title":null}}}},
{"data":{"name":"RN_f"},"mark":{"type":"point","opacity":0},"encoding":{"x":{"field":"A","type":"quantitative","scale":{"type":"log","domain":[10,1000000],"nice":false},"axis":null},"y":{"field":"S","type":"quantitative","scale":{"type":"log","domain":[0.01,1],"nice":false},"axis":{"orient":"right","values":[0.02,0.03,0.04,0.05,0.06,0.07,0.08,0.09,0.2,0.3,0.4,0.5,0.6,0.7,0.8,0.9],"labels":false,"domain":false,"grid":false,"ticks":true,"tickSize":9,"offset":-9,"tickColor":"#999999","tickWidth":1,"title":null}}}}
],"resolve":{"axis":{"x":"independent","y":"independent"}}},
{"title":{"text":"RS","fontSize":20,"fontWeight":"bold","color":"#111111","font":"Liberation Sans","frame":"group","anchor":"middle","baseline":"alphabetic","offset":15,"dy":34},"width":435,"height":174,"layer":[
{"data":{"name":"RS_f"},"mark":{"type":"point","shape":"diamond","filled":true,"color":"#666666","size":24,"opacity":1},"encoding":{"x":{"field":"A","type":"quantitative","scale":{"type":"log","domain":[10,1000000],"nice":false},"axis":{"orient":"bottom","values":[10,100,1000,10000,100000,1000000],"labelExpr":"'10'","ticks":false,"domain":false,"grid":false,"labelFlush":false,"labelOverlap":false,"labelPadding":12,"labelOffset":-3,"labelFontSize":16,"labelColor":"#222222","title":"Contributing area (m²)","titleFontSize":22,"titleFontWeight":"normal","titleColor":"#222222","titlePadding":14}},"y":{"field":"S","type":"quantitative","scale":{"type":"log","domain":[0.01,1],"nice":false},"axis":{"orient":"left","values":[0.01,0.1,1],"format":".2f","ticks":false,"domain":false,"grid":false,"labelFlush":false,"labelOverlap":false,"labelAngle":270,"labelAlign":"center","labelBaseline":"bottom","labelPadding":7,"labelFontSize":16,"labelColor":"#222222","title":"Local Slope (m/m)","titleFontSize":22,"titleFontWeight":"normal","titleColor":"#222222","titlePadding":17}}}},
{"data":{"name":"RS_o"},"mark":{"type":"point","shape":"circle","filled":false,"stroke":"#111111","strokeWidth":1,"size":20,"opacity":1},"encoding":{"x":{"field":"A","type":"quantitative","scale":{"type":"log","domain":[10,1000000],"nice":false},"axis":{"orient":"bottom","values":[10,100,1000,10000,100000,1000000],"labelExpr":"''+round(log(datum.value)/LN10)","ticks":false,"domain":false,"grid":false,"labelFlush":false,"labelOverlap":false,"labelPadding":9,"labelOffset":9,"labelFontSize":11,"labelColor":"#222222","title":null}},"y":{"field":"S","type":"quantitative","scale":{"type":"log","domain":[0.01,1],"nice":false},"axis":{"orient":"left","values":[0.01,0.1,1],"labels":false,"domain":false,"grid":false,"ticks":true,"tickSize":15,"offset":-15,"tickColor":"#888888","tickWidth":1,"title":null}}}},
{"data":{"name":"RS_f"},"mark":{"type":"point","opacity":0},"encoding":{"x":{"field":"A","type":"quantitative","scale":{"type":"log","domain":[10,1000000],"nice":false},"axis":{"orient":"top","values":[10,100,1000,10000,100000,1000000],"labels":false,"domain":false,"grid":false,"ticks":true,"tickSize":9,"offset":-9,"tickColor":"#888888","tickWidth":1,"title":null}},"y":{"field":"S","type":"quantitative","scale":{"type":"log","domain":[0.01,1],"nice":false},"axis":{"orient":"left","values":[0.02,0.03,0.04,0.05,0.06,0.07,0.08,0.09,0.2,0.3,0.4,0.5,0.6,0.7,0.8,0.9],"labels":false,"domain":false,"grid":false,"ticks":true,"tickSize":9,"offset":-9,"tickColor":"#999999","tickWidth":1,"title":null}}}},
{"data":{"name":"RS_f"},"mark":{"type":"point","opacity":0},"encoding":{"x":{"field":"A","type":"quantitative","scale":{"type":"log","domain":[10,1000000],"nice":false},"axis":{"orient":"bottom","values":[10,100,1000,10000,100000,1000000],"labels":false,"domain":false,"grid":false,"ticks":true,"tickSize":9,"offset":-9,"tickColor":"#888888","tickWidth":1,"title":null}},"y":{"field":"S","type":"quantitative","scale":{"type":"log","domain":[0.01,1],"nice":false},"axis":{"orient":"right","values":[0.01,0.1,1],"labels":false,"domain":false,"grid":false,"ticks":true,"tickSize":15,"offset":-15,"tickColor":"#888888","tickWidth":1,"title":null}}}},
{"data":{"name":"RS_f"},"mark":{"type":"point","opacity":0},"encoding":{"x":{"field":"A","type":"quantitative","scale":{"type":"log","domain":[10,1000000],"nice":false},"axis":null},"y":{"field":"S","type":"quantitative","scale":{"type":"log","domain":[0.01,1],"nice":false},"axis":{"orient":"right","values":[0.02,0.03,0.04,0.05,0.06,0.07,0.08,0.09,0.2,0.3,0.4,0.5,0.6,0.7,0.8,0.9],"labels":false,"domain":false,"grid":false,"ticks":true,"tickSize":9,"offset":-9,"tickColor":"#999999","tickWidth":1,"title":null}}}}
],"resolve":{"axis":{"x":"independent","y":"independent"}}},
{"title":{"text":"UE","fontSize":20,"fontWeight":"bold","color":"#111111","font":"Liberation Sans","frame":"group","anchor":"middle","baseline":"alphabetic","offset":15,"dy":34},"width":435,"height":174,"layer":[
{"data":{"name":"UE_f"},"mark":{"type":"point","shape":"diamond","filled":true,"color":"#666666","size":24,"opacity":1},"encoding":{"x":{"field":"A","type":"quantitative","scale":{"type":"log","domain":[10,1000000],"nice":false},"axis":{"orient":"bottom","values":[10,100,1000,10000,100000,1000000],"labelExpr":"'10'","ticks":false,"domain":false,"grid":false,"labelFlush":false,"labelOverlap":false,"labelPadding":12,"labelOffset":-3,"labelFontSize":16,"labelColor":"#222222","title":"Contributing area (m²)","titleFontSize":22,"titleFontWeight":"normal","titleColor":"#222222","titlePadding":14}},"y":{"field":"S","type":"quantitative","scale":{"type":"log","domain":[0.01,1],"nice":false},"axis":{"orient":"left","values":[0.01,0.1,1],"format":".2f","ticks":false,"domain":false,"grid":false,"labelFlush":false,"labelOverlap":false,"labelAngle":270,"labelAlign":"center","labelBaseline":"bottom","labelPadding":7,"labelFontSize":16,"labelColor":"#222222","title":"Local Slope (m/m)","titleFontSize":22,"titleFontWeight":"normal","titleColor":"#222222","titlePadding":17}}}},
{"data":{"name":"UE_o"},"mark":{"type":"point","shape":"circle","filled":false,"stroke":"#111111","strokeWidth":1,"size":20,"opacity":1},"encoding":{"x":{"field":"A","type":"quantitative","scale":{"type":"log","domain":[10,1000000],"nice":false},"axis":{"orient":"bottom","values":[10,100,1000,10000,100000,1000000],"labelExpr":"''+round(log(datum.value)/LN10)","ticks":false,"domain":false,"grid":false,"labelFlush":false,"labelOverlap":false,"labelPadding":9,"labelOffset":9,"labelFontSize":11,"labelColor":"#222222","title":null}},"y":{"field":"S","type":"quantitative","scale":{"type":"log","domain":[0.01,1],"nice":false},"axis":{"orient":"left","values":[0.01,0.1,1],"labels":false,"domain":false,"grid":false,"ticks":true,"tickSize":15,"offset":-15,"tickColor":"#888888","tickWidth":1,"title":null}}}},
{"data":{"name":"UE_f"},"mark":{"type":"point","opacity":0},"encoding":{"x":{"field":"A","type":"quantitative","scale":{"type":"log","domain":[10,1000000],"nice":false},"axis":{"orient":"top","values":[10,100,1000,10000,100000,1000000],"labels":false,"domain":false,"grid":false,"ticks":true,"tickSize":9,"offset":-9,"tickColor":"#888888","tickWidth":1,"title":null}},"y":{"field":"S","type":"quantitative","scale":{"type":"log","domain":[0.01,1],"nice":false},"axis":{"orient":"left","values":[0.02,0.03,0.04,0.05,0.06,0.07,0.08,0.09,0.2,0.3,0.4,0.5,0.6,0.7,0.8,0.9],"labels":false,"domain":false,"grid":false,"ticks":true,"tickSize":9,"offset":-9,"tickColor":"#999999","tickWidth":1,"title":null}}}},
{"data":{"name":"UE_f"},"mark":{"type":"point","opacity":0},"encoding":{"x":{"field":"A","type":"quantitative","scale":{"type":"log","domain":[10,1000000],"nice":false},"axis":{"orient":"bottom","values":[10,100,1000,10000,100000,1000000],"labels":false,"domain":false,"grid":false,"ticks":true,"tickSize":9,"offset":-9,"tickColor":"#888888","tickWidth":1,"title":null}},"y":{"field":"S","type":"quantitative","scale":{"type":"log","domain":[0.01,1],"nice":false},"axis":{"orient":"right","values":[0.01,0.1,1],"labels":false,"domain":false,"grid":false,"ticks":true,"tickSize":15,"offset":-15,"tickColor":"#888888","tickWidth":1,"title":null}}}},
{"data":{"name":"UE_f"},"mark":{"type":"point","opacity":0},"encoding":{"x":{"field":"A","type":"quantitative","scale":{"type":"log","domain":[10,1000000],"nice":false},"axis":null},"y":{"field":"S","type":"quantitative","scale":{"type":"log","domain":[0.01,1],"nice":false},"axis":{"orient":"right","values":[0.02,0.03,0.04,0.05,0.06,0.07,0.08,0.09,0.2,0.3,0.4,0.5,0.6,0.7,0.8,0.9],"labels":false,"domain":false,"grid":false,"ticks":true,"tickSize":9,"offset":-9,"tickColor":"#999999","tickWidth":1,"title":null}}}}
],"resolve":{"axis":{"x":"independent","y":"independent"}}},
{"title":{"text":"UW","fontSize":20,"fontWeight":"bold","color":"#111111","font":"Liberation Sans","frame":"group","anchor":"middle","baseline":"alphabetic","offset":15,"dy":34},"width":435,"height":174,"layer":[
{"data":{"name":"UW_f"},"mark":{"type":"point","shape":"diamond","filled":true,"color":"#666666","size":24,"opacity":1},"encoding":{"x":{"field":"A","type":"quantitative","scale":{"type":"log","domain":[10,1000000],"nice":false},"axis":{"orient":"bottom","values":[10,100,1000,10000,100000,1000000],"labelExpr":"'10'","ticks":false,"domain":false,"grid":false,"labelFlush":false,"labelOverlap":false,"labelPadding":12,"labelOffset":-3,"labelFontSize":16,"labelColor":"#222222","title":"Contributing area (m²)","titleFontSize":22,"titleFontWeight":"normal","titleColor":"#222222","titlePadding":14}},"y":{"field":"S","type":"quantitative","scale":{"type":"log","domain":[0.01,1],"nice":false},"axis":{"orient":"left","values":[0.01,0.1,1],"format":".2f","ticks":false,"domain":false,"grid":false,"labelFlush":false,"labelOverlap":false,"labelAngle":270,"labelAlign":"center","labelBaseline":"bottom","labelPadding":7,"labelFontSize":16,"labelColor":"#222222","title":"Local Slope (m/m)","titleFontSize":22,"titleFontWeight":"normal","titleColor":"#222222","titlePadding":17}}}},
{"data":{"name":"UW_o"},"mark":{"type":"point","shape":"circle","filled":false,"stroke":"#111111","strokeWidth":1,"size":20,"opacity":1},"encoding":{"x":{"field":"A","type":"quantitative","scale":{"type":"log","domain":[10,1000000],"nice":false},"axis":{"orient":"bottom","values":[10,100,1000,10000,100000,1000000],"labelExpr":"''+round(log(datum.value)/LN10)","ticks":false,"domain":false,"grid":false,"labelFlush":false,"labelOverlap":false,"labelPadding":9,"labelOffset":9,"labelFontSize":11,"labelColor":"#222222","title":null}},"y":{"field":"S","type":"quantitative","scale":{"type":"log","domain":[0.01,1],"nice":false},"axis":{"orient":"left","values":[0.01,0.1,1],"labels":false,"domain":false,"grid":false,"ticks":true,"tickSize":15,"offset":-15,"tickColor":"#888888","tickWidth":1,"title":null}}}},
{"data":{"name":"UW_f"},"mark":{"type":"point","opacity":0},"encoding":{"x":{"field":"A","type":"quantitative","scale":{"type":"log","domain":[10,1000000],"nice":false},"axis":{"orient":"top","values":[10,100,1000,10000,100000,1000000],"labels":false,"domain":false,"grid":false,"ticks":true,"tickSize":9,"offset":-9,"tickColor":"#888888","tickWidth":1,"title":null}},"y":{"field":"S","type":"quantitative","scale":{"type":"log","domain":[0.01,1],"nice":false},"axis":{"orient":"left","values":[0.02,0.03,0.04,0.05,0.06,0.07,0.08,0.09,0.2,0.3,0.4,0.5,0.6,0.7,0.8,0.9],"labels":false,"domain":false,"grid":false,"ticks":true,"tickSize":9,"offset":-9,"tickColor":"#999999","tickWidth":1,"title":null}}}},
{"data":{"name":"UW_f"},"mark":{"type":"point","opacity":0},"encoding":{"x":{"field":"A","type":"quantitative","scale":{"type":"log","domain":[10,1000000],"nice":false},"axis":{"orient":"bottom","values":[10,100,1000,10000,100000,1000000],"labels":false,"domain":false,"grid":false,"ticks":true,"tickSize":9,"offset":-9,"tickColor":"#888888","tickWidth":1,"title":null}},"y":{"field":"S","type":"quantitative","scale":{"type":"log","domain":[0.01,1],"nice":false},"axis":{"orient":"right","values":[0.01,0.1,1],"labels":false,"domain":false,"grid":false,"ticks":true,"tickSize":15,"offset":-15,"tickColor":"#888888","tickWidth":1,"title":null}}}},
{"data":{"name":"UW_f"},"mark":{"type":"point","opacity":0},"encoding":{"x":{"field":"A","type":"quantitative","scale":{"type":"log","domain":[10,1000000],"nice":false},"axis":null},"y":{"field":"S","type":"quantitative","scale":{"type":"log","domain":[0.01,1],"nice":false},"axis":{"orient":"right","values":[0.02,0.03,0.04,0.05,0.06,0.07,0.08,0.09,0.2,0.3,0.4,0.5,0.6,0.7,0.8,0.9],"labels":false,"domain":false,"grid":false,"ticks":true,"tickSize":9,"offset":-9,"tickColor":"#999999","tickWidth":1,"title":null}}}}
],"resolve":{"axis":{"x":"independent","y":"independent"}}}
]
}
